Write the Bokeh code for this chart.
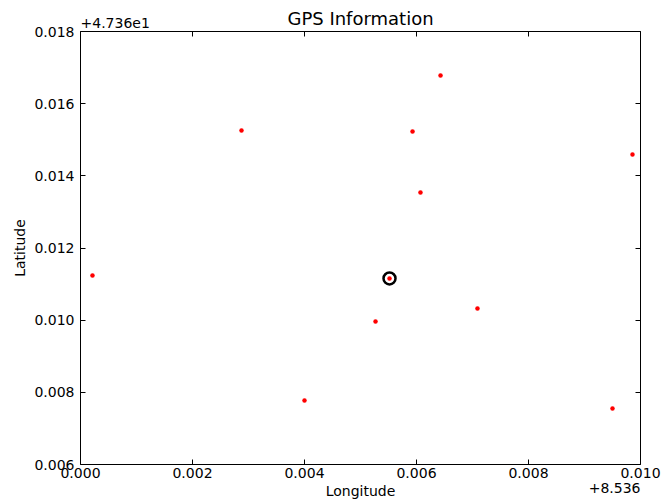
from bokeh.plotting import figure
from bokeh.models import (Range1d, FixedTicker, CustomJSTickFormatter, LinearAxis, Title)
from bokeh.embed import file_html
from bokeh.resources import INLINE

x_offset = 8.536
y_offset = 47.36
lon = [8.536214, 8.538875, 8.540000, 8.541268, 8.541518, 8.541929,
       8.542071, 8.542429, 8.543089, 8.545500, 8.545857]
lat = [47.371238, 47.375256, 47.367774, 47.369963, 47.371155, 47.375229,
       47.373538, 47.376781, 47.370323, 47.367552, 47.374591]
center_lon = [8.541518]
center_lat = [47.371155]
x_tick_deltas = [0.000, 0.002, 0.004, 0.006, 0.008, 0.010]
y_tick_deltas = [0.006, 0.008, 0.010, 0.012, 0.014, 0.016, 0.018]
x_offset_text = "+8.536"
y_offset_text = "+4.736e1"

FONT = "DejaVu Sans"

p = figure(width=662, height=502, output_backend="svg", toolbar_location=None,
           frame_width=560, frame_height=433,
           min_border_left=80, min_border_right=22, min_border_top=31, min_border_bottom=38,
           x_range=Range1d(x_offset + 0.0, x_offset + 0.010),
           y_range=Range1d(y_offset + 0.006, y_offset + 0.018))

p.grid.visible = False
p.outline_line_color = "black"
p.outline_line_width = 1
p.outline_line_alpha = 1

xt = FixedTicker(ticks=[x_offset + d for d in x_tick_deltas])
yt = FixedTicker(ticks=[y_offset + d for d in y_tick_deltas])
xf = CustomJSTickFormatter(args=dict(off=x_offset), code="return (tick - off).toFixed(3);")
yf = CustomJSTickFormatter(args=dict(off=y_offset), code="return (tick - off).toFixed(3);")
blank = CustomJSTickFormatter(code="return '';")

for ax, t, f in ((p.xaxis[0], xt, xf), (p.yaxis[0], yt, yf)):
    ax.ticker = t
    ax.formatter = f
    ax.major_tick_in = 5
    ax.major_tick_out = 0
    ax.minor_tick_in = 0
    ax.minor_tick_out = 0
    ax.axis_line_color = None
    ax.major_label_text_font = FONT
    ax.major_label_text_font_size = "14px"
    ax.major_label_text_color = "black"
    ax.axis_label_text_font = FONT
    ax.axis_label_text_font_size = "14px"
    ax.axis_label_text_font_style = "normal"
    ax.axis_label_text_color = "black"
    ax.major_tick_line_color = "black"

p.xaxis.axis_label = "Longitude"
p.yaxis.axis_label = "Latitude"
p.xaxis.major_label_standoff = 3
p.xaxis.axis_label_standoff = 2
p.yaxis.major_label_standoff = 6
p.yaxis.axis_label_standoff = 3

for loc, t in (("right", yt), ("above", xt)):
    a = LinearAxis(ticker=t, formatter=blank, major_tick_in=5, major_tick_out=0,
                   minor_tick_in=0, minor_tick_out=0, axis_line_color=None,
                   major_label_standoff=0)
    p.add_layout(a, loc)

t_off_y = Title(text=y_offset_text, align="left", text_font=FONT, text_font_size="14px",
                text_font_style="normal", text_color="black", standoff=8, offset=0)
p.add_layout(t_off_y, "above")
t_main = Title(text="GPS Information", align="center", text_font=FONT, text_font_size="18px",
               text_font_style="normal", text_color="black", standoff=-34, offset=0)
p.add_layout(t_main, "above")
t_off_x = Title(text=x_offset_text, align="right", vertical_align="top", text_font=FONT,
                text_font_size="14px", text_font_style="normal", text_color="black",
                standoff=-38, offset=0)
p.add_layout(t_off_x, "below")

p.scatter(center_lon, center_lat, size=12, marker="circle", fill_color=None,
          line_color="black", line_width=2.5)
p.scatter(lon, lat, size=4.5, marker="circle", fill_color="red", line_color=None)

open("out.html", "w").write(file_html(p, INLINE))
